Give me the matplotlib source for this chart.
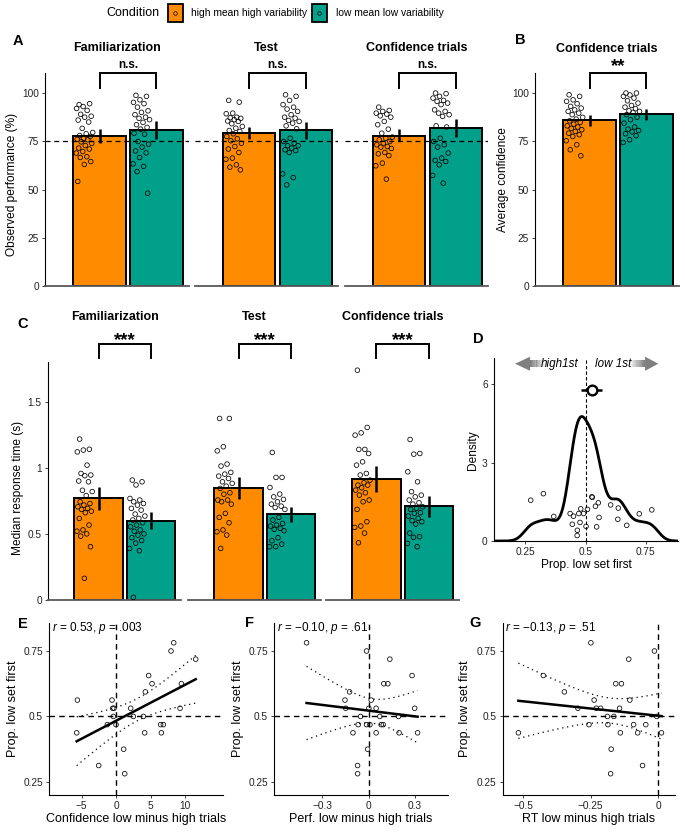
import numpy as np
import matplotlib
matplotlib.use('Agg')
import matplotlib.pyplot as plt
from matplotlib.patches import Rectangle, Polygon
from matplotlib.lines import Line2D

plt.rcParams['font.family'] = ['Liberation Sans', 'DejaVu Sans']
plt.rcParams['mathtext.fontset'] = 'custom'
plt.rcParams['mathtext.rm'] = 'Liberation Sans'
plt.rcParams['mathtext.it'] = 'Liberation Sans:italic'

ORANGE = '#FF8C00'
TEAL = '#00A08A'
INK = '#222222'

# ---------------- data ----------------
conditions = ['high mean high variability', 'low mean low variability']
phases = ['Familiarization', 'Test', 'Confidence trials']

# A: observed performance (%)
perf_fam_high = [94, 94.5, 93, 92, 91, 89, 88, 87.5, 86, 85, 81.7, 79.6, 78.9, 78, 77.5, 76.6, 76,
                 75.8, 74.7, 73.9, 72.8, 71.5, 71, 69.7, 68.9, 67, 66.6, 64.5, 63, 54.2]
perf_fam_low = [98.8, 98.3, 96.5, 95.2, 94.5, 92.7, 90.8, 90, 88.8, 87.5, 86.9, 86.2, 84.8, 83.6,
                82.2, 81.3, 79.2, 78.7, 74.9, 73.5, 72, 70, 69, 66.6, 63.3, 62, 59.3, 48.1]
perf_test_high = [96.2, 95.3, 89.6, 89.3, 87.5, 87.2, 86.9, 86.2, 85.5, 85.3, 84.1, 82.7, 81.8, 80.6,
                  80.1, 78.9, 77.5, 76.3, 75.3, 74, 72.3, 71, 69.2, 66.3, 65.7, 62.8, 61.6, 60.2]
perf_test_low = [99.1, 98.3, 96.2, 94, 92.7, 91.7, 90.5, 88.8, 87.5, 87, 85.8, 85.3, 84.4, 83, 81.5,
                 76.6, 74.9, 74, 72.7, 72.7, 71.5, 70.6, 70.2, 69.2, 58.1, 56.2, 52.4]
perf_conf_high = [92.7, 91, 90.5, 89.6, 89.1, 88.2, 87.5, 85.3, 83.6, 81.3, 79.2, 77.2, 76.6, 75.8,
                  74.9, 74, 73.2, 72.3, 72, 71.3, 69.2, 68.5, 67.6, 63.7, 62.3, 55.4]
perf_conf_low = [100, 99.7, 98.3, 97.4, 96.2, 95.7, 94.8, 94, 91.3, 90.5, 89.6, 88.8, 87.9, 83, 82.4,
                 76.6, 74.9, 73.2, 72, 68.9, 66.3, 65.1, 64.5, 62.8, 57.3, 53.3]
perf_means = [[77.9, 81.0], [79.4, 81.0], [78.0, 81.8]]
perf_ci = [[(74.0, 81.5), (76.3, 85.3)], [(76.3, 82.4), (76.3, 84.9)], [(74.9, 81.5), (77.0, 86.7)]]

# B: average confidence
conf_high = [99.1, 98.3, 96.5, 95.7, 94.5, 93.1, 92.2, 91.3, 90.5, 89.6, 88.8, 87.4, 86.5, 85.6,
             84.8, 83.9, 83, 82.4, 81.7, 81, 80.1, 79.2, 78.4, 77.5, 75.3, 73.2, 70.6, 67.5]
conf_low = [100, 100, 99, 98.3, 97.4, 96, 94.8, 93.6, 92.7, 91.9, 90.8, 90.5, 90, 88.8, 87.5, 86.2,
            84.4, 82.4, 81.3, 80.6, 79.9, 78.9, 77.9, 75.8, 74.4]
conf_means = [85.8, 88.9]
conf_ci = [(82.7, 88.4), (86.2, 91.7)]

# C: median response time (s)
rt_fam_high = [1.217, 1.14, 1.134, 1.12, 1.02, 0.957, 0.945, 0.94, 0.9, 0.894, 0.83, 0.82, 0.79,
               0.743, 0.73, 0.718, 0.705, 0.693, 0.685, 0.672, 0.66, 0.617, 0.567, 0.53, 0.52, 0.5,
               0.483, 0.403, 0.164]
rt_fam_low = [0.907, 0.894, 0.87, 0.768, 0.756, 0.743, 0.73, 0.718, 0.693, 0.68, 0.65, 0.635, 0.617,
              0.605, 0.584, 0.567, 0.554, 0.53, 0.52, 0.5, 0.49, 0.471, 0.45, 0.43, 0.39, 0.373, 0.02]
rt_test_high = [1.373, 1.373, 1.159, 1.128, 1.028, 1.013, 0.965, 0.952, 0.937, 0.919, 0.894, 0.882,
                0.861, 0.844, 0.811, 0.8, 0.756, 0.756, 0.743, 0.725, 0.655, 0.625, 0.584, 0.53,
                0.516, 0.491, 0.39]
rt_test_low = [1.116, 0.927, 0.927, 0.851, 0.801, 0.78, 0.761, 0.743, 0.725, 0.71, 0.7, 0.685, 0.625,
               0.605, 0.579, 0.567, 0.559, 0.542, 0.534, 0.524, 0.471, 0.448, 0.423, 0.403, 0.403]
rt_conf_high = [1.738, 1.305, 1.264, 1.247, 1.139, 1.139, 1.108, 1.045, 1.02, 0.957, 0.945, 0.907,
                0.887, 0.869, 0.869, 0.849, 0.831, 0.811, 0.793, 0.756, 0.743, 0.685, 0.592, 0.559,
                0.549, 0.506, 0.433]
rt_conf_low = [1.214, 1.108, 1.103, 0.97, 0.894, 0.819, 0.793, 0.78, 0.756, 0.736, 0.725, 0.705,
               0.693, 0.685, 0.66, 0.655, 0.635, 0.617, 0.6, 0.592, 0.574, 0.506, 0.479, 0.474,
               0.428, 0.403]
rt_means = [[0.768, 0.60], [0.849, 0.65], [0.914, 0.71]]
rt_ci = [[(0.68, 0.856), (0.534, 0.667)], [(0.763, 0.932), (0.592, 0.705)], [(0.814, 1.015), (0.63, 0.786)]]

# D: proportion of trials where the low set was sampled first
d_prop = [0.2725, 0.325, 0.368, 0.436, 0.445, 0.450, 0.466, 0.465, 0.472, 0.477, 0.480, 0.492, 0.502,
          0.508, 0.526, 0.528, 0.541, 0.546, 0.553, 0.556, 0.604, 0.636, 0.634, 0.671, 0.723, 0.775]
d_jit_y = [1.56, 1.81, 0.94, 1.05, 0.64, 0.95, 0.41, 0.21, 1.05, 0.71, 1.23, 1.05, 0.56, 1.21, 1.69,
           1.67, 1.33, 0.54, 1.46, 0.90, 1.38, 1.26, 0.83, 0.60, 1.04, 1.19]
d_mean = 0.526
d_ci = (0.48, 0.567)

# E-G: correlations with prop. low set first
e_x = [-5.60, -5.70, -2.51, -0.58, -0.48, -0.29, -1.26, -0.39, 0.0, 1.11, 1.26, 2.13, 2.51, 3.96,
       4.15, 4.25, 4.73, 5.22, 6.47, 6.86, 6.57, 7.97, 8.36, 9.28, 9.47, 11.55]
e_y = [0.5625, 0.4375, 0.3125, 0.5625, 0.53125, 0.53125, 0.46875, 0.5, 0.46875, 0.375, 0.28125,
       0.53125, 0.5, 0.5, 0.4375, 0.59375, 0.65625, 0.625, 0.46875, 0.46875, 0.4375, 0.75, 0.78125,
       0.53125, 0.625, 0.71875]
f_x = [-0.402, -0.013, 0.138, 0.282, -0.123, 0.099, 0.125, -0.153, 0.017, -0.148, 0.002, 0.049, 0.299,
       -0.052, 0.073, 0.194, -0.067, -0.013, 0.009, 0.082, 0.095, -0.101, 0.049, 0.198, 0.318,
       -0.006, -0.071, -0.071]
f_y = [0.78125, 0.75, 0.71875, 0.65625, 0.59375, 0.625, 0.625, 0.5625, 0.5625, 0.53125, 0.53125,
       0.53125, 0.53125, 0.5, 0.5, 0.5, 0.46875, 0.46875, 0.46875, 0.46875, 0.46875, 0.4375, 0.4375,
       0.4375, 0.4375, 0.375, 0.3125, 0.28125]
g_x = [-0.517, -0.425, -0.347, -0.297, -0.249, -0.256, -0.237, -0.229, -0.213, -0.188, -0.186, -0.174,
       -0.176, -0.164, -0.157, -0.136, -0.143, -0.140, -0.109, -0.105, -0.091, -0.076, -0.058, -0.046,
       -0.014, -0.005, 0.012]
g_y = [0.4375, 0.65625, 0.59375, 0.53125, 0.78125, 0.46875, 0.5625, 0.53125, 0.53125, 0.5, 0.46875,
       0.375, 0.28125, 0.5, 0.625, 0.625, 0.53125, 0.4375, 0.71875, 0.5625, 0.46875, 0.4375, 0.3125,
       0.46875, 0.75, 0.5, 0.4375]
stats = [r'$r$ = 0.53, $p$ = .003', r'$r$ = −0.10, $p$ = .61', r'$r$ = −0.13, $p$ = .51']

# ---------------- layout helpers (pixel based) ----------------
W, H = 685, 833
fig = plt.figure(figsize=(W / 100, H / 100), dpi=100)


def px_axes(l, t, r, b):
    ax = fig.add_axes([l / W, 1 - b / H, (r - l) / W, (b - t) / H])
    ax.patch.set_alpha(0)
    return ax


def ftext(x, y, s, **kw):
    fig.text(x / W, 1 - y / H, s, **kw)


def jitter(n):
    # deterministic spread to the left of each bar centre
    return -0.27 + 0.15 * (((np.arange(n) * 0.618034 + 0.2) % 1) * 2 - 1)


def style(ax, left=True, bottom_color='black', bottom_lw=0.8):
    for s in ['top', 'right']:
        ax.spines[s].set_visible(False)
    ax.spines['left'].set_visible(left)
    ax.spines['left'].set_linewidth(0.8)
    ax.spines['bottom'].set_color(bottom_color)
    ax.spines['bottom'].set_linewidth(bottom_lw)
    ax.tick_params(length=2.5, width=0.6, color=INK, labelsize=7.3, labelcolor=INK, pad=2)
    if not left:
        ax.tick_params(axis='y', left=False, labelleft=False)


def bar_facet(ax, groups, means, cis, ylim, yticks, yticklabels, left):
    ax.bar([0, 1], means, width=0.92, color=[ORANGE, TEAL], edgecolor='black', linewidth=1.4, zorder=2)
    for i, vals in enumerate(groups):
        ax.scatter(i + jitter(len(vals)), vals, s=11, facecolors='none', edgecolors='black',
                   linewidths=0.55, zorder=3, clip_on=False)
    ax.vlines([0, 1], [c[0] for c in cis], [c[1] for c in cis], color='black', lw=1.8, zorder=4)
    ax.set_xlim(-0.96, 1.565)
    ax.set_ylim(*ylim)
    ax.set_xticks([])
    ax.set_yticks(yticks, labels=yticklabels)
    style(ax, left=left, bottom_color='0.35', bottom_lw=1.3)


def bracket(ax, y0, y1, label, ty, size, weight='bold'):
    ax.plot([0, 0, 1, 1], [y0, y1, y1, y0], color='black', lw=1.4, clip_on=False, zorder=5,
            solid_joinstyle='miter')
    ax.text(0.5, ty, label, ha='center', va='baseline', fontsize=size, fontweight=weight, clip_on=False)


# ---------------- A ----------------
perf_groups = [(perf_fam_high, perf_fam_low), (perf_test_high, perf_test_low), (perf_conf_high, perf_conf_low)]
a_left = [45, 194.6, 344.6]
for k in range(3):
    ax = px_axes(a_left[k], 73, a_left[k] + 143.5, 286)
    bar_facet(ax, perf_groups[k], perf_means[k], perf_ci[k], (0, 110.4), [0, 25, 50, 75, 100],
              ['0', '25', '50', '75', '100'], left=(k == 0))
    ax.axhline(75, color='black', lw=0.9, ls=(0, (4, 3)), zorder=6)
    bracket(ax, 102.6, 110.4, 'n.s.', 113.1, 8.5)
    ax.text(0.5, 122, phases[k], transform=ax.get_xaxis_transform(), ha='center', va='baseline',
            fontsize=9, fontweight='bold')
    ax.text(0.5, 122, '', ha='center')
# fix title y to data coords
for ax in fig.axes[:3]:
    for t in ax.texts:
        if t.get_text() in phases:
            t.set_transform(matplotlib.transforms.blended_transform_factory(ax.transAxes, ax.transData))

# ---------------- B ----------------
ax = px_axes(535, 73, 678.5, 286)
bar_facet(ax, (conf_high, conf_low), conf_means, conf_ci, (0, 110.4), [0, 25, 50, 75, 100],
          ['0', '25', '50', '75', '100'], left=True)
bracket(ax, 102.6, 110.4, '**', 111.5, 13.5)
ax.text(0.5, 121.3, 'Confidence trials', transform=matplotlib.transforms.blended_transform_factory(
    ax.transAxes, ax.transData), ha='center', va='baseline', fontsize=9, fontweight='bold')

# ---------------- C ----------------
rt_groups = [(rt_fam_high, rt_fam_low), (rt_test_high, rt_test_low), (rt_conf_high, rt_conf_low)]
c_left = [48, 188, 325.8]
for k in range(3):
    ax = px_axes(c_left[k], 362, c_left[k] + 133, 600)
    bar_facet(ax, rt_groups[k], rt_means[k], rt_ci[k], (0, 1.8), [0, 0.5, 1, 1.5],
              ['0', '0.5', '1', '1.5'], left=(k == 0))
    bracket(ax, 1.83, 1.936, '***', 1.925, 13.5)
    ax.text(0.5, 2.118, phases[k], transform=matplotlib.transforms.blended_transform_factory(
        ax.transAxes, ax.transData), ha='center', va='baseline', fontsize=9, fontweight='bold')

# ---------------- D ----------------
ax = px_axes(494, 358, 678.3, 541)
xd = np.asarray(d_prop)
n = len(xd)
iqr = np.subtract(*np.percentile(xd, [75, 25]))
bw = 0.9 * min(xd.std(ddof=1), iqr / 1.34) * n ** -0.2
grid = np.linspace(0.12, 0.885, 400)
dens = np.exp(-0.5 * ((grid[:, None] - xd[None, :]) / bw) ** 2).sum(axis=1) / (n * bw * np.sqrt(2 * np.pi))
ax.plot(grid, dens, color='black', lw=2.0, zorder=3)
ax.axvline(0.5, color='black', lw=0.8, ls=(0, (3, 2)), zorder=2)
ax.scatter(d_prop, d_jit_y, s=11, facecolors='none', edgecolors='black', linewidths=0.55, zorder=4)
ax.hlines(5.78, d_ci[0], d_ci[1], color='black', lw=1.8, zorder=5)
ax.plot([d_mean], [5.78], 'o', ms=7, mfc='white', mec='black', mew=1.7, zorder=6)
ax.set_xlim(0.12, 0.885)
ax.set_ylim(0, 7)
ax.set_xticks([0.25, 0.5, 0.75], labels=['0.25', '0.5', '0.75'])
ax.set_yticks([0, 3, 6], labels=['0', '3', '6'])
style(ax)
# direction arrows with fading shafts
grey = '#7f7f7f'
yc = 6.78
ax.add_patch(Polygon([[0.2075, yc], [0.2697, yc + 0.27], [0.2697, yc - 0.27]], closed=True,
                     color=grey, lw=0, clip_on=False))
ax.add_patch(Polygon([[0.802, yc], [0.747, yc + 0.27], [0.747, yc - 0.27]], closed=True,
                     color=grey, lw=0, clip_on=False))
steps = 14
for i in range(steps):
    w = (0.332 - 0.2697) / steps
    ax.add_patch(Rectangle((0.2697 + i * w, yc - 0.13), w * 1.02, 0.26, color=grey, lw=0,
                           alpha=1 - i / steps, clip_on=False))
    w2 = (0.747 - 0.684) / steps
    ax.add_patch(Rectangle((0.747 - (i + 1) * w2, yc - 0.13), w2 * 1.02, 0.26, color=grey, lw=0,
                           alpha=1 - i / steps, clip_on=False))
ax.text(0.394, yc, 'high1st', ha='center', va='center', fontsize=8.4, style='italic')
ax.text(0.615, yc, 'low 1st', ha='center', va='center', fontsize=8.4, style='italic')


# ---------------- E, F, G ----------------
def reg_panel(l, r, x, y, xlim, ticks, ticklabels, stat):
    ax = px_axes(l, 622.7, r, 795)
    x = np.asarray(x)
    y = np.asarray(y)
    ax.axhline(0.5, color='black', lw=1.0, ls=(0, (4, 3)), zorder=1)
    ax.axvline(0, color='black', lw=1.0, ls=(0, (4, 3)), zorder=1)
    ax.scatter(x, y, s=11, facecolors='none', edgecolors='black', linewidths=0.55, zorder=3)
    slope, icpt = np.polyfit(x, y, 1)
    xs = np.linspace(x.min(), x.max(), 100)
    n = len(x)
    s = np.sqrt(np.sum((y - (icpt + slope * x)) ** 2) / (n - 2))
    se = s * np.sqrt(1 / n + (xs - x.mean()) ** 2 / np.sum((x - x.mean()) ** 2))
    fit = icpt + slope * xs
    ax.plot(xs, fit, color='black', lw=1.8, zorder=4)
    for sign in (1, -1):
        ax.plot(xs, fit + sign * 2.06 * se, color='black', lw=0.9, ls=(0, (1, 3)), zorder=2)
    ax.set_xlim(*xlim)
    ax.set_ylim(0.2, 0.858)
    ax.set_xticks(ticks, labels=ticklabels)
    ax.set_yticks([0.25, 0.5, 0.75], labels=['0.25', '0.5', '0.75'])
    style(ax)
    ftext(l + 2.5, 631.5, stat, ha='left', va='baseline', fontsize=8.5)
    return ax


reg_panel(49.3, 222.7, e_x, e_y, (-9.67, 15.46), [-5, 0, 5, 10], ['−5', '0', '5', '10'], stats[0])
reg_panel(274.3, 448.3, f_x, f_y, (-0.611, 0.517), [-0.3, 0, 0.3], ['−0.3', '0', '0.3'], stats[1])
reg_panel(502.7, 675, g_x, g_y, (-0.575, 0.062), [-0.5, -0.25, 0], ['−0.5', '−0.25', '0'], stats[2])

# ---------------- axis labels ----------------
lab = dict(fontsize=8.6, color='black', ha='center', va='center')
ftext(12, 184.5, 'Observed performance (%)', rotation=90, **lab)
ftext(503, 180, 'Average confidence', rotation=90, **lab)
ftext(18, 488, 'Median response time (s)', rotation=90, **lab)
ftext(473, 450, 'Density', rotation=90, **lab)
ftext(586.7, 565, 'Prop. low set first', **lab)
lab9 = dict(lab, fontsize=9)
for xx in (13, 238, 465):
    ftext(xx, 709, 'Prop. low set first', rotation=90, **lab9)
ftext(136.3, 819, 'Confidence low minus high trials', **lab9)
ftext(361, 819, 'Perf. low minus high trials', **lab9)
ftext(589, 819, 'RT low minus high trials', **lab9)

# panel letters
for letter, (x, y) in zip('ABCDEFG', [(18.3, 40), (520, 38.3), (23, 322.7), (478.3, 337.7),
                                      (23.3, 622.7), (250, 621.7), (475, 621.7)]):
    ftext(x, y + 5.2, letter, ha='center', va='baseline', fontsize=10.5, fontweight='bold')

# ---------------- legend ----------------
ftext(106.7, 13, 'Condition', ha='left', va='center', fontsize=9)
for (x0, col, txt, tx) in [(168, ORANGE, conditions[0], 191), (312, TEAL, conditions[1], 336)]:
    fig.add_artist(Rectangle((x0 / W, 1 - 22 / H), 14.5 / W, 18 / H, transform=fig.transFigure,
                             facecolor=col, edgecolor='black', lw=1.3))
    fig.add_artist(Line2D([(x0 + 7.25) / W], [1 - 13 / H], marker='o', ms=2.6, mfc='none', mec='black',
                          mew=0.5, transform=fig.transFigure))
    ftext(tx, 13, txt, ha='left', va='center', fontsize=7.4)

fig.savefig('out.png', dpi=100)
